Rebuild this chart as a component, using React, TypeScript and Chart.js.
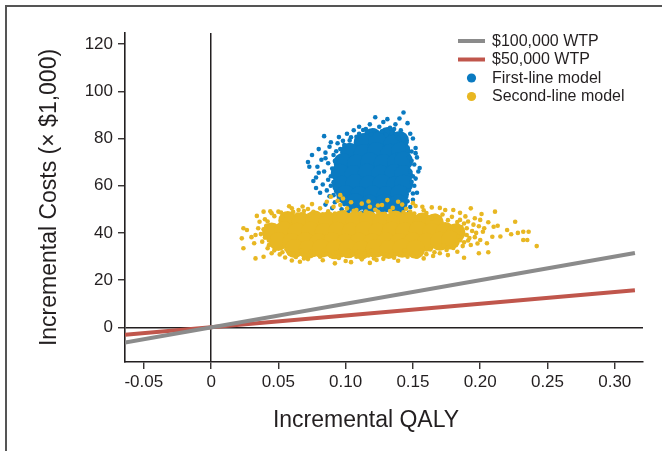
import React, { useEffect, useRef } from "react";
import { Chart, registerables } from "chart.js";

Chart.register(...registerables);

// ---- Data ----
const xTickValues = [-0.05, 0, 0.05, 0.1, 0.15, 0.2, 0.25, 0.3];
const xTickLabels = ["-0.05", "0", "0.05", "0.10", "0.15", "0.20", "0.25", "0.30"];
const yTickValues = [0, 20, 40, 60, 80, 100, 120];
const yTickLabels = ["0", "20", "40", "60", "80", "100", "120"];

const seriesLabels = ["$100,000 WTP", "$50,000 WTP", "First-line model", "Second-line model"];
const xAxisTitle = "Incremental QALY";
const yAxisTitle = "Incremental Costs (\u00d7 $1,000)";

// WTP threshold lines (end points)
const wtpQaly = [-0.064, 0.315];
const wtp100kCost = [-6.4, 31.5];
const wtp50kCost = [-3.2, 15.75];

// First-line model: dense core of the cloud
const firstLineCore: [number, number][] = [
  [0.120, 80.4], [0.131, 80.8], [0.140, 79.2],
  [0.113, 78.3], [0.124, 78.8], [0.135, 77.6],
  [0.103, 74.2], [0.113, 73.6], [0.123, 74.5], [0.133, 73.8], [0.141, 74.6],
  [0.098, 69.8], [0.108, 69.2], [0.118, 70.1], [0.128, 69.4], [0.138, 69.9], [0.143, 70.5],
  [0.096, 65.3], [0.106, 64.6], [0.116, 65.4], [0.126, 64.8], [0.136, 65.2], [0.143, 64.7],
  [0.097, 60.2], [0.107, 60.9], [0.117, 60.3], [0.127, 60.8], [0.137, 60.1], [0.143, 60.6],
  [0.100, 56.3], [0.110, 55.7], [0.120, 56.2], [0.130, 55.8], [0.140, 56.4],
  [0.107, 52.8], [0.118, 52.2], [0.129, 52.6], [0.139, 52.3],
];

// First-line model: scattered simulations at the edge of the cloud
const firstLinePoints: [number, number][] = [
  [0.143, 91], [0.140, 88.5], [0.122, 89], [0.128, 87], [0.131, 88.2], [0.137, 86], [0.146, 86.5],
  [0.118, 86], [0.110, 85], [0.106, 83.5], [0.101, 82], [0.084, 81], [0.115, 84], [0.125, 85],
  [0.133, 84.5], [0.141, 83.5], [0.148, 82], [0.150, 80], [0.098, 79], [0.104, 80.5], [0.094, 78],
  [0.088, 76.5], [0.085, 74], [0.091, 73], [0.075, 73], [0.072, 70], [0.073, 68], [0.082, 71],
  [0.087, 69.5], [0.084, 66], [0.089, 64], [0.078, 63.5], [0.076, 62], [0.083, 60.5], [0.086, 58],
  [0.088, 55.5], [0.081, 57], [0.092, 53], [0.085, 52], [0.090, 50.5], [0.080, 65.5], [0.079, 68],
  [0.152, 76], [0.153, 72], [0.151, 69], [0.154, 66], [0.152, 63], [0.151, 60], [0.153, 57],
  [0.150, 54], [0.148, 51], [0.149, 74.5], [0.155, 67.5], [0.147, 48.5],
  [0.097, 50], [0.102, 49], [0.112, 48.5], [0.125, 48], [0.135, 48.5], [0.142, 49],
  [0.108, 80.7], [0.119, 81.8], [0.130, 81.5], [0.139, 80.2], [0.145, 78.4], [0.096, 75.5],
  [0.092, 70.5], [0.091, 61.5], [0.093, 57.5], [0.147, 72], [0.148, 66], [0.147, 58],
  [0.099, 77.2], [0.116, 82.6],
  [0.103, 79.2], [0.110, 82.0], [0.121, 83.4], [0.127, 83.0], [0.134, 82.4], [0.143, 79.6],
  [0.146, 76.2], [0.149, 70.6], [0.150, 64.0], [0.149, 61.6], [0.150, 56.7], [0.146, 53.4],
  [0.144, 50.5], [0.093, 74.6], [0.090, 67.3], [0.089, 60.0], [0.091, 56.0], [0.095, 54.2],
  [0.099, 52.2], [0.103, 50.6], [0.087, 62.5], [0.085, 71.6], [0.089, 78.4], [0.080, 75.5],
  [0.078, 59.0], [0.136, 84.0], [0.113, 83.6], [0.152, 73.8], [0.095, 80.6],
];

// Second-line model: dense core of the cloud
const secondLineCore: [number, number][] = [
  [0.057, 45.3], [0.067, 44.8], [0.077, 45.5], [0.087, 45.0], [0.097, 45.6], [0.107, 45.1],
  [0.117, 45.4], [0.127, 44.9], [0.137, 45.5], [0.147, 45.0], [0.157, 44.6], [0.166, 44.2],
  [0.045, 40.4], [0.054, 40.9], [0.064, 40.3], [0.074, 40.8], [0.084, 40.2], [0.094, 40.7],
  [0.104, 40.4], [0.114, 40.9], [0.124, 40.3], [0.134, 40.8], [0.144, 40.5], [0.154, 40.9],
  [0.164, 40.2], [0.174, 40.6], [0.182, 40.1],
  [0.050, 36.4], [0.060, 35.9], [0.070, 36.3], [0.080, 35.8], [0.090, 36.2], [0.100, 35.7],
  [0.110, 36.1], [0.120, 35.8], [0.130, 36.3], [0.140, 35.9], [0.150, 36.2], [0.160, 36.0],
  [0.170, 36.5], [0.178, 37.0],
  [0.062, 33.4], [0.072, 33.0], [0.082, 33.5], [0.092, 32.9], [0.102, 33.3], [0.112, 32.8],
  [0.122, 33.4], [0.132, 33.0], [0.142, 33.5], [0.152, 33.1],
];

// Second-line model: scattered simulations at the edge of the cloud
const secondLinePoints: [number, number][] = [
  [0.039, 49], [0.045, 48.3], [0.050, 49], [0.034, 47.2], [0.044, 49.2], [0.060, 50.4], [0.065, 49.7],
  [0.072, 50.1], [0.081, 50.4], [0.086, 53.2], [0.089, 55.3], [0.091, 51.1], [0.096, 51.8],
  [0.096, 56.0], [0.101, 50.4], [0.108, 49.7], [0.118, 51.1], [0.127, 51.8], [0.131, 53.9],
  [0.139, 53.2], [0.145, 50.2], [0.152, 51.4], [0.158, 49.6], [0.164, 50.8], [0.174, 49.7],
  [0.180, 49.7], [0.193, 50.4], [0.211, 49.0], [0.112, 52.4], [0.122, 49.8], [0.135, 50.6],
  [0.076, 48.9], [0.055, 48.0], [0.068, 51.2], [0.104, 53.0], [0.142, 52.0], [0.148, 49.0],
  [0.024, 42], [0.0266, 41.2], [0.0228, 37.7], [0.033, 39.1], [0.032, 35.6], [0.024, 33.5],
  [0.033, 29.2], [0.039, 29.9], [0.036, 44.7], [0.035, 42], [0.038, 36.3], [0.042, 33.5],
  [0.045, 31.4], [0.040, 45.8], [0.037, 39.5], [0.041, 43.0], [0.030, 38.2],
  [0.051, 30.9], [0.066, 27.8], [0.072, 28.9], [0.081, 29.9], [0.092, 27.1], [0.100, 28.1],
  [0.108, 29.9], [0.121, 29.2], [0.123, 28.5], [0.136, 29.5], [0.146, 29.9], [0.153, 29.9],
  [0.170, 31.4], [0.175, 32.8], [0.183, 32.0], [0.188, 29.5], [0.199, 31.4], [0.206, 31.8],
  [0.058, 31.5], [0.086, 31.0], [0.097, 30.5], [0.114, 31.2], [0.130, 30.6], [0.141, 31.5],
  [0.160, 31.0], [0.063, 29.8], [0.077, 30.8],
  [0.182, 34.9], [0.185, 45.5], [0.190, 39.1], [0.193, 34.9], [0.200, 45.5], [0.203, 42],
  [0.200, 37], [0.202, 40.5], [0.205, 35.6], [0.209, 38.4], [0.210, 42.6], [0.213, 43],
  [0.220, 41.2], [0.223, 39.4], [0.226, 44.7], [0.228, 40], [0.232, 37], [0.232, 40.5],
  [0.235, 37], [0.236, 40.5], [0.242, 34.4], [0.164, 46.2], [0.186, 42.5], [0.189, 47.0],
  [0.195, 43.5], [0.192, 37.8], [0.197, 40.0], [0.188, 36.0], [0.196, 46.2], [0.206, 44.5],
  [0.215, 38.5], [0.179, 46.8], [0.172, 47.8], [0.176, 33.8], [0.184, 38.5], [0.191, 44.8],
  [0.198, 35.5],
  [0.047, 47.1], [0.052, 48.6], [0.056, 47.4], [0.061, 48.9], [0.064, 47.8], [0.069, 49.3],
  [0.073, 47.5], [0.078, 48.4], [0.083, 47.9], [0.087, 49.1], [0.092, 48.2], [0.099, 48.8],
  [0.103, 47.6], [0.106, 49.4], [0.111, 48.3], [0.115, 49.0], [0.120, 47.7], [0.124, 48.9],
  [0.129, 48.1], [0.133, 49.3], [0.138, 48.0], [0.143, 48.7], [0.151, 48.2], [0.155, 47.3],
  [0.160, 48.4], [0.167, 47.2], [0.170, 46.5], [0.176, 45.4], [0.183, 44.6],
  [0.043, 34.8], [0.047, 32.6], [0.053, 31.8], [0.056, 33.1], [0.061, 31.2], [0.067, 32.4],
  [0.070, 30.6], [0.074, 32.0], [0.079, 31.6], [0.084, 32.7], [0.089, 30.2], [0.093, 31.8],
  [0.102, 32.3], [0.105, 30.8], [0.110, 32.1], [0.117, 30.4], [0.119, 32.5], [0.126, 31.0],
  [0.133, 32.2], [0.137, 30.9], [0.144, 32.6], [0.149, 31.1], [0.156, 32.4], [0.163, 33.0],
  [0.166, 31.8], [0.173, 34.6], [0.180, 33.6], [0.187, 34.4],
  [0.186, 39.8], [0.190, 42.0], [0.188, 44.0], [0.194, 40.8], [0.191, 36.8], [0.196, 38.2],
  [0.199, 42.8], [0.185, 36.9], [0.040, 38.0], [0.039, 41.5], [0.042, 44.8], [0.043, 36.8],
  [0.055, 29.6], [0.069, 29.2], [0.083, 28.4], [0.095, 29.4], [0.104, 27.6], [0.112, 28.8],
  [0.128, 29.0], [0.139, 28.2], [0.150, 30.4], [0.158, 29.2], [0.165, 30.2], [0.176, 30.6],
  [0.060, 28.3], [0.118, 27.3],
  [0.058, 51.3], [0.075, 52.2], [0.094, 53.6], [0.117, 53.3], [0.124, 51.6], [0.150, 52.6],
  [0.157, 51.1], [0.170, 50.6], [0.185, 48.5], [0.201, 48.0], [0.098, 54.6],
];

// ---- Styling ----
const FONT = "'Liberation Sans', Arial, Helvetica, sans-serif";
const INK = "#231f20";
const GRAY = "#8b8b8b";
const RED = "#c0564c";
const BLUE = "#0a7ac1";
const YELLOW = "#e8b722";

const toXY = (pts: [number, number][]) => pts.map(([x, y]) => ({ x, y }));

const overlayPlugin = {
  id: "overlay",
  afterDraw(chart: any) {
    const ctx = chart.ctx as CanvasRenderingContext2D;
    const ds = chart.data.datasets;
    ctx.save();
    // legend
    const rows = [41, 59.5, 78, 96.5];
    ctx.font = `16px ${FONT}`;
    ctx.textBaseline = "middle";
    ctx.textAlign = "left";
    for (let i = 0; i < 4; i++) {
      const y = rows[i];
      const d = ds[i];
      if (i < 2) {
        ctx.strokeStyle = d.borderColor;
        ctx.lineWidth = 4;
        ctx.lineCap = "butt";
        ctx.beginPath();
        ctx.moveTo(458, y);
        ctx.lineTo(485, y);
        ctx.stroke();
      } else {
        ctx.fillStyle = d.backgroundColor;
        ctx.beginPath();
        ctx.arc(471.5, y, 4.6, 0, Math.PI * 2);
        ctx.fill();
      }
      ctx.fillStyle = INK;
      ctx.fillText(d.label, 492, y + 0.5);
    }
    // x-axis title
    ctx.font = `23px ${FONT}`;
    ctx.textAlign = "center";
    ctx.textBaseline = "middle";
    ctx.fillStyle = INK;
    ctx.fillText(xAxisTitle, 366, 421);
    ctx.restore();
  },
};

export default function App() {
  const canvasRef = useRef<HTMLCanvasElement | null>(null);

  useEffect(() => {
    if (!canvasRef.current) return;
    const zeroLine = (c: any) => (c.tick && c.tick.value === 0 ? INK : "rgba(0,0,0,0)");
    const chart = new Chart(canvasRef.current, {
      type: "scatter",
      data: {
        datasets: [
          {
            label: seriesLabels[0],
            data: wtpQaly.map((x, i) => ({ x, y: wtp100kCost[i] })),
            showLine: true,
            borderColor: GRAY,
            backgroundColor: GRAY,
            borderWidth: 4,
            pointRadius: 0,
            order: 5,
          },
          {
            label: seriesLabels[1],
            data: wtpQaly.map((x, i) => ({ x, y: wtp50kCost[i] })),
            showLine: true,
            borderColor: RED,
            backgroundColor: RED,
            borderWidth: 4,
            pointRadius: 0,
            order: 6,
          },
          {
            label: seriesLabels[2],
            data: toXY(firstLinePoints),
            backgroundColor: BLUE,
            borderWidth: 0,
            pointRadius: 2.3,
            order: 3,
          },
          {
            label: seriesLabels[3],
            data: toXY(secondLinePoints),
            backgroundColor: YELLOW,
            borderWidth: 0,
            pointRadius: 2.3,
            order: 1,
          },
          {
            label: seriesLabels[2] + " (core)",
            data: toXY(firstLineCore),
            backgroundColor: BLUE,
            borderWidth: 0,
            pointRadius: 9.5,
            order: 4,
          },
          {
            label: seriesLabels[3] + " (core)",
            data: toXY(secondLineCore),
            backgroundColor: YELLOW,
            borderWidth: 0,
            pointRadius: 9.5,
            order: 2,
          },
        ],
      },
      options: {
        animation: false,
        responsive: false,
        devicePixelRatio: 1,
        events: [],
        layout: { padding: { top: 33, right: 19, bottom: 0, left: 0 } },
        plugins: {
          legend: { display: false },
          tooltip: { enabled: false },
          title: { display: false },
        },
        scales: {
          x: {
            type: "linear",
            position: "bottom",
            min: -0.064,
            max: 0.321,
            afterBuildTicks: (s: any) => {
              s.ticks = xTickValues.map((v) => ({ value: v }));
            },
            afterFit: (s: any) => {
              s.height = 89;
            },
            ticks: {
              callback: (_v: any, i: number) => xTickLabels[i],
              font: { family: FONT, size: 17 },
              color: INK,
              padding: 3,
              maxRotation: 0,
              autoSkip: false,
            },
            grid: {
              color: zeroLine,
              lineWidth: 1.5,
              drawTicks: true,
              tickLength: 7,
              tickColor: INK,
              tickWidth: 1.3,
            },
            border: { display: true, color: INK, width: 1.6 },
            title: { display: false },
          },
          y: {
            type: "linear",
            position: "left",
            min: -14.7,
            max: 124.7,
            afterBuildTicks: (s: any) => {
              s.ticks = yTickValues.map((v) => ({ value: v }));
            },
            afterFit: (s: any) => {
              s.width = 125;
            },
            ticks: {
              callback: (_v: any, i: number) => yTickLabels[i],
              font: { family: FONT, size: 17 },
              color: INK,
              padding: 5,
              autoSkip: false,
            },
            grid: {
              color: zeroLine,
              lineWidth: 1.5,
              drawTicks: true,
              tickLength: 7,
              tickColor: INK,
              tickWidth: 1.3,
            },
            border: { display: true, color: INK, width: 1.6 },
            title: {
              display: true,
              text: yAxisTitle,
              font: { family: FONT, size: 23 },
              color: INK,
              padding: { top: 36, bottom: 0 },
            },
          },
        },
      },
      plugins: [overlayPlugin],
    } as any);
    return () => chart.destroy();
  }, []);

  return (
    <div style={{ position: "absolute", left: 0, top: 0, width: 662, height: 451, background: "#fff" }}>
      <div
        style={{
          position: "absolute",
          left: 5,
          top: 5,
          right: 0,
          bottom: 0,
          borderLeft: "2px solid #555",
          borderTop: "2px solid #555",
        }}
      />
      <canvas ref={canvasRef} width={662} height={451} style={{ position: "absolute", left: 0, top: 0, display: "block" }} />
    </div>
  );
}
